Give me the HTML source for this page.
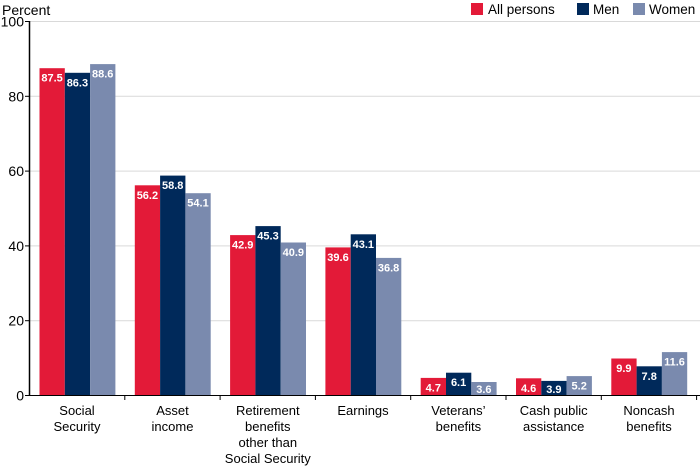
<!DOCTYPE html>
<html><head><meta charset="utf-8"><style>
html,body{margin:0;padding:0;background:#fff;}
svg{display:block;font-family:"Liberation Sans",Arial,sans-serif;}
.v{fill:#fff;font-size:11px;font-weight:bold;text-anchor:middle;}
.c{font-size:13px;text-anchor:middle;fill:#000;}
.y{font-size:14px;text-anchor:end;fill:#000;}
</style></head><body>
<svg width="700" height="468" viewBox="0 0 700 468">
<text x="2" y="15" font-size="14">Percent</text>
<rect x="471" y="3" width="12" height="12" fill="#e31a38"/><text x="488" y="14" font-size="13.5">All persons</text>
<rect x="577" y="3" width="12" height="12" fill="#00295a"/><text x="593" y="14" font-size="13.5">Men</text>
<rect x="633" y="3" width="12" height="12" fill="#7a8aae"/><text x="649" y="14" font-size="13.5">Women</text>
<g stroke="#d9d9d9" stroke-width="1">
<line x1="29.5" y1="21.5" x2="700" y2="21.5"/>
<line x1="29.5" y1="96.3" x2="700" y2="96.3"/>
<line x1="29.5" y1="171.1" x2="700" y2="171.1"/>
<line x1="29.5" y1="245.9" x2="700" y2="245.9"/>
<line x1="29.5" y1="320.7" x2="700" y2="320.7"/>
</g>
<g class="y">
<text x="24" y="26.5">100</text><text x="24" y="101.3">80</text><text x="24" y="176.1">60</text><text x="24" y="250.9">40</text><text x="24" y="325.7">20</text><text x="24" y="400.5">0</text>
</g>
<g stroke="#000" stroke-width="1">
<line x1="25" y1="21.5" x2="29.5" y2="21.5"/><line x1="25" y1="96.3" x2="29.5" y2="96.3"/><line x1="25" y1="171.1" x2="29.5" y2="171.1"/><line x1="25" y1="245.9" x2="29.5" y2="245.9"/><line x1="25" y1="320.7" x2="29.5" y2="320.7"/>
</g>
<g>
<rect x="39.5" y="68.2" width="25.3" height="327.3" fill="#e31a38"/>
<rect x="64.8" y="72.8" width="25.3" height="322.7" fill="#00295a"/>
<rect x="90.1" y="64.1" width="25.3" height="331.4" fill="#7a8aae"/>
<rect x="134.8" y="185.3" width="25.3" height="210.2" fill="#e31a38"/>
<rect x="160.1" y="175.6" width="25.3" height="219.9" fill="#00295a"/>
<rect x="185.4" y="193.2" width="25.3" height="202.3" fill="#7a8aae"/>
<rect x="230.1" y="235.1" width="25.3" height="160.4" fill="#e31a38"/>
<rect x="255.4" y="226.1" width="25.3" height="169.4" fill="#00295a"/>
<rect x="280.7" y="242.5" width="25.3" height="153" fill="#7a8aae"/>
<rect x="325.4" y="247.4" width="25.3" height="148.1" fill="#e31a38"/>
<rect x="350.7" y="234.3" width="25.3" height="161.2" fill="#00295a"/>
<rect x="376" y="257.9" width="25.3" height="137.6" fill="#7a8aae"/>
<rect x="420.7" y="377.9" width="25.3" height="17.6" fill="#e31a38"/>
<rect x="446" y="372.7" width="25.3" height="22.8" fill="#00295a"/>
<rect x="471.3" y="382" width="25.3" height="13.5" fill="#7a8aae"/>
<rect x="516" y="378.3" width="25.3" height="17.2" fill="#e31a38"/>
<rect x="541.3" y="380.9" width="25.3" height="14.6" fill="#00295a"/>
<rect x="566.6" y="376.1" width="25.3" height="19.4" fill="#7a8aae"/>
<rect x="611.3" y="358.5" width="25.3" height="37" fill="#e31a38"/>
<rect x="636.6" y="366.3" width="25.3" height="29.2" fill="#00295a"/>
<rect x="661.9" y="352.1" width="25.3" height="43.4" fill="#7a8aae"/>
</g>
<g class="v">
<text x="52.1" y="81.7">87.5</text><text x="77.4" y="86.3">86.3</text><text x="102.7" y="77.6">88.6</text>
<text x="147.4" y="198.8">56.2</text><text x="172.7" y="189.1">58.8</text><text x="198" y="206.7">54.1</text>
<text x="242.7" y="248.6">42.9</text><text x="268" y="239.6">45.3</text><text x="293.3" y="256">40.9</text>
<text x="338" y="260.9">39.6</text><text x="363.3" y="247.8">43.1</text><text x="388.6" y="271.4">36.8</text>
<text x="433.3" y="391.4">4.7</text><text x="458.6" y="386.2">6.1</text><text x="483.9" y="393">3.6</text>
<text x="528.6" y="391.8">4.6</text><text x="553.9" y="393">3.9</text><text x="579.2" y="389.6">5.2</text>
<text x="623.9" y="372">9.9</text><text x="649.2" y="379.8">7.8</text><text x="674.5" y="365.6">11.6</text>
</g>
<line x1="29.5" y1="21" x2="29.5" y2="396" stroke="#000" stroke-width="1.5"/>
<line x1="25" y1="395.5" x2="700" y2="395.5" stroke="#000" stroke-width="1"/>
<g stroke="#000" stroke-width="1">
<line x1="124.8" y1="395.5" x2="124.8" y2="400"/><line x1="220.1" y1="395.5" x2="220.1" y2="400"/><line x1="315.4" y1="395.5" x2="315.4" y2="400"/><line x1="410.7" y1="395.5" x2="410.7" y2="400"/><line x1="506" y1="395.5" x2="506" y2="400"/><line x1="601.3" y1="395.5" x2="601.3" y2="400"/><line x1="696.6" y1="395.5" x2="696.6" y2="400"/>
</g>
<g class="c">
<text x="77" y="415">Social</text><text x="77" y="431">Security</text>
<text x="172.5" y="415">Asset</text><text x="172.5" y="431">income</text>
<text x="267.8" y="415">Retirement</text><text x="267.8" y="431">benefits</text><text x="267.8" y="447">other than</text><text x="267.8" y="463">Social Security</text>
<text x="363" y="415">Earnings</text>
<text x="458.4" y="415">Veterans’</text><text x="458.4" y="431">benefits</text>
<text x="553.7" y="415">Cash public</text><text x="553.7" y="431">assistance</text>
<text x="649" y="415">Noncash</text><text x="649" y="431">benefits</text>
</g>
</svg>
</body></html>
